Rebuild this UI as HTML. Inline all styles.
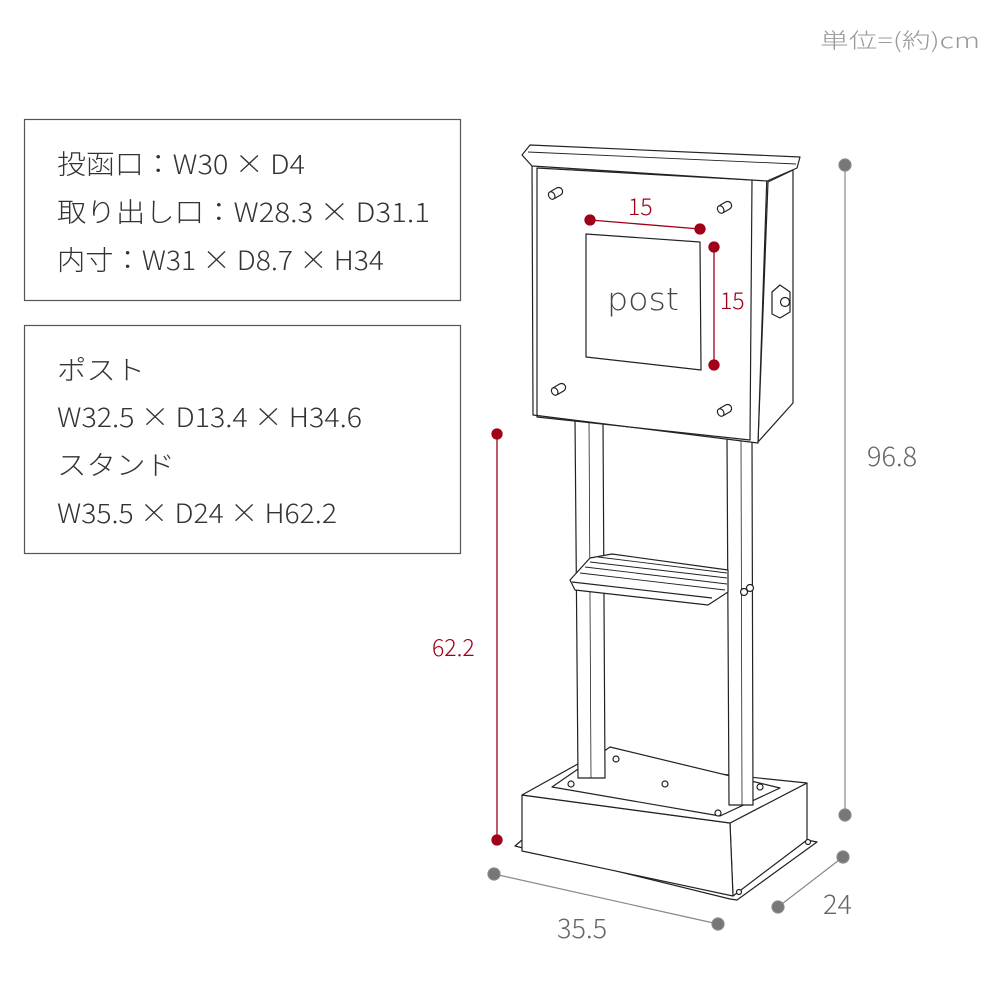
<!DOCTYPE html>
<html><head><meta charset="utf-8"><style>
html,body{margin:0;padding:0;background:#fff;}
svg{display:block;}
text{font-family:"Noto Sans CJK JP","Liberation Sans",sans-serif;font-weight:300;}
</style></head><body>
<svg width="1000" height="1000" viewBox="0 0 1000 1000" xmlns="http://www.w3.org/2000/svg">
<rect width="1000" height="1000" fill="#fff"/>
<text x="820" y="48" font-size="21" fill="#999" textLength="160" lengthAdjust="spacingAndGlyphs">単位=(約)cm</text>

<rect x="24.5" y="119.5" width="436" height="181" fill="none" stroke="#555" stroke-width="1.2"/>
<g font-size="27" fill="#333">
<text x="57" y="174" textLength="248" lengthAdjust="spacingAndGlyphs">投函口：W30 × D4</text>
<text x="57" y="222" textLength="373" lengthAdjust="spacingAndGlyphs">取り出し口：W28.3 × D31.1</text>
<text x="57" y="270" textLength="327" lengthAdjust="spacingAndGlyphs">内寸：W31 × D8.7 × H34</text>
</g>
<rect x="24.5" y="325.5" width="436" height="228" fill="none" stroke="#555" stroke-width="1.2"/>
<g font-size="27" fill="#333">
<text x="57" y="380" textLength="88" lengthAdjust="spacingAndGlyphs">ポスト</text>
<text x="57" y="427" textLength="305" lengthAdjust="spacingAndGlyphs">W32.5 × D13.4 × H34.6</text>
<text x="57" y="475" textLength="118" lengthAdjust="spacingAndGlyphs">スタンド</text>
<text x="57" y="523" textLength="280" lengthAdjust="spacingAndGlyphs">W35.5 × D24 × H62.2</text>
</g>

<g fill="#fff" stroke="#222" stroke-width="1.2" stroke-linejoin="round">
<polygon points="515,846 522,840 807,840 817,842 737,900 730,899"/>
<polygon points="730,823 807,783 807,840 733,896"/>
<polygon points="522,795 730,823 733,896 522,851"/>
<polygon points="522,795 585,760 807,783 730,823"/>
<polygon points="552,787 610,747 780,788 720,816"/>
<circle cx="616" cy="759" r="3"/><circle cx="571" cy="784" r="3"/><circle cx="665" cy="784" r="3"/><circle cx="760" cy="787" r="3"/><circle cx="718" cy="813" r="3"/>
<circle cx="808" cy="842" r="2.5"/><circle cx="739" cy="892" r="2.5"/>
<!-- right post -->
<polygon points="727,438 752,440 753,805 729,805"/>
<line x1="741" y1="439" x2="742" y2="805" stroke-width="0.8"/>
<!-- left post -->
<polygon points="575,418 603,420 605,778 578,778"/>
<line x1="589" y1="419" x2="591" y2="778" stroke-width="0.8"/>
<!-- shelf -->
<polygon points="590,558 612,554 728,570 728,592 708,605 575,590 570,580"/>
<line x1="572" y1="582" x2="712" y2="598"/>
<line x1="580" y1="573" x2="725" y2="590" stroke-width="0.9"/>
<line x1="585" y1="567" x2="727" y2="584" stroke-width="0.9"/>
<line x1="590" y1="562" x2="727" y2="578" stroke-width="0.9"/>
<line x1="598" y1="557" x2="727" y2="573" stroke-width="0.9"/>
<circle cx="744" cy="592" r="3.5"/><circle cx="750" cy="588" r="3.5"/>
<!-- mailbox -->
<polygon points="768,182 793,170 793,403 758,442"/>
<polygon points="532,162 767,173 758,443 533,415"/>
<polygon points="537,168 752,180 750,440 537,417" fill="none"/>
<polygon points="522,155 530,145 800,157 797,168 767,181 532,166"/>
<line x1="528" y1="152" x2="796" y2="164" stroke-width="0.9"/>
<polygon points="586,234 700,242 701,370 586,357"/>
<polygon points="772,292 780,285 790,292 790,312 780,318 772,314"/>
<circle cx="785" cy="302" r="4.5"/>
</g>
<g fill="#fff" stroke="#222" stroke-width="1.2">
<g transform="translate(556,193) rotate(-30)"><rect x="-7" y="-4" width="14" height="8" rx="4"/><ellipse cx="-5" cy="0" rx="3" ry="4"/></g>
<g transform="translate(725,207) rotate(-30)"><rect x="-7" y="-4" width="14" height="8" rx="4"/><ellipse cx="-5" cy="0" rx="3" ry="4"/></g>
<g transform="translate(559,389) rotate(-30)"><rect x="-7" y="-4" width="14" height="8" rx="4"/><ellipse cx="-5" cy="0" rx="3" ry="4"/></g>
<g transform="translate(725,410) rotate(-30)"><rect x="-7" y="-4" width="14" height="8" rx="4"/><ellipse cx="-5" cy="0" rx="3" ry="4"/></g>
</g>
<text x="607" y="310" font-size="31" fill="#444" textLength="72" lengthAdjust="spacingAndGlyphs" style="font-family:'DejaVu Sans',sans-serif;font-weight:200">post</text>

<g stroke="#a00018" stroke-width="1.3" fill="#a00018">
<line x1="590" y1="220" x2="700" y2="229"/><circle cx="590" cy="220" r="5"/><circle cx="700" cy="229" r="5"/>
<line x1="714" y1="247" x2="714" y2="365"/><circle cx="714" cy="247" r="5"/><circle cx="714" cy="365" r="5"/>
<line x1="497" y1="434" x2="497" y2="840"/><circle cx="497" cy="434" r="5"/><circle cx="497" cy="840" r="5"/>
</g>
<g fill="#a00018" font-size="23">
<text x="628" y="215">15</text>
<text x="720" y="309">15</text>
<text x="432" y="656">62.2</text>
</g>
<g stroke="#888" stroke-width="1.2" fill="#777">
<line x1="845" y1="165" x2="845" y2="815"/><circle cx="845" cy="165" r="6"/><circle cx="845" cy="815" r="6"/>
<line x1="494" y1="874" x2="718" y2="924"/><circle cx="494" cy="874" r="6"/><circle cx="718" cy="924" r="6"/>
<line x1="778" y1="907" x2="843" y2="857"/><circle cx="778" cy="907" r="6"/><circle cx="843" cy="857" r="6"/>
</g>
<g fill="#666" font-size="27">
<text x="867" y="466">96.8</text>
<text x="557" y="938">35.5</text>
<text x="823" y="914">24</text>
</g>
</svg>
</body></html>
